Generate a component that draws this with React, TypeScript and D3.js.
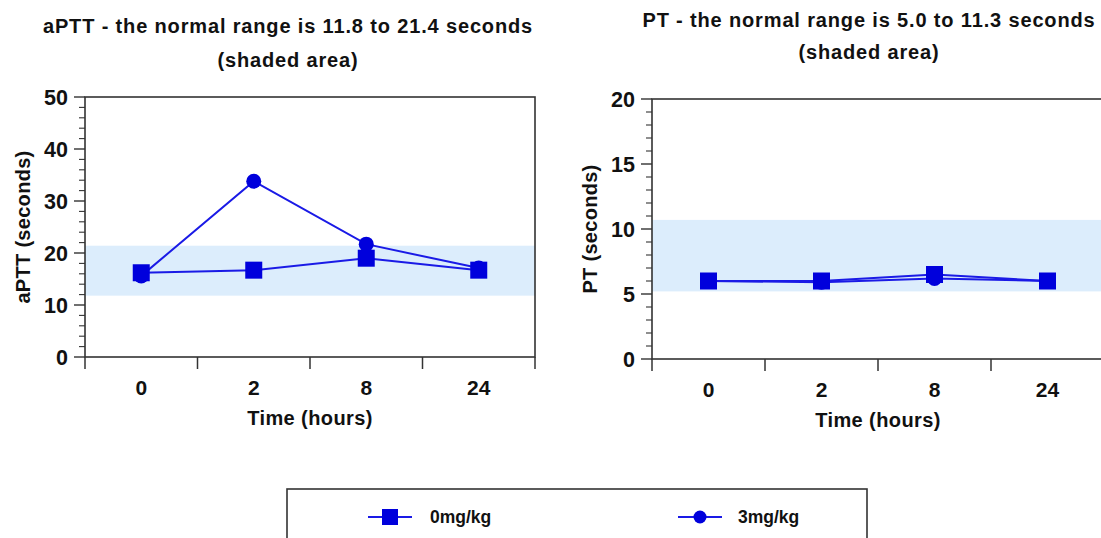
import React from "react";
import * as d3 from "d3";

const categories = ["0", "2", "8", "24"];
const aptt0mg = [16.2, 16.7, 19.0, 16.7];
const aptt3mg = [15.6, 33.8, 21.7, 17.1];
const pt0mg = [6.0, 6.0, 6.5, 6.0];
const pt3mg = [6.0, 5.9, 6.2, 6.0];
const apttShade = [11.8, 21.4];
const ptShade = [5.2, 10.7];
const apttTicks = [0, 10, 20, 30, 40, 50];
const ptTicks = [0, 5, 10, 15, 20];
const seriesNames = ["0mg/kg", "3mg/kg"];

const FONT = "'Liberation Sans', Arial, sans-serif";
const LINE = "#1a1ae6";
const MARK = "#0000dc";
const SHADE = "#dcedfc";
const FRAME = "#333";

type PanelProps = {
  x0: number; x1: number; yTop: number; yBottom: number;
  yMax: number; ticks: number[]; minorStep: number;
  shade: number[]; s0: number[]; s3: number[];
  yLabel: string; titleLines: string[]; titleX: number; titleY: number[];
};

function Panel(p: PanelProps) {
  const x = d3.scaleBand<string>().domain(categories).range([p.x0, p.x1]).paddingInner(0).paddingOuter(0);
  const y = d3.scaleLinear().domain([0, p.yMax]).range([p.yBottom, p.yTop]);
  const cx = (c: string) => (x(c) as number) + x.bandwidth() / 2;
  const line = d3.line<number>().x((_, i) => cx(categories[i])).y((v) => y(v));
  const minor = d3.range(0, p.yMax + 1e-9, p.minorStep).filter((v) => !p.ticks.includes(v));
  const bounds = [...categories.map((c) => x(c) as number), p.x1];
  const midX = (p.x0 + p.x1) / 2;
  return (
    <g>
      {p.titleLines.map((t, i) => (
        <text key={i} x={p.titleX} y={p.titleY[i]} textAnchor="middle" fontFamily={FONT} fontWeight="bold" fontSize={20} letterSpacing={0.85} fill="#111">{t}</text>
      ))}
      <rect x={p.x0} y={y(p.shade[1])} width={p.x1 - p.x0} height={y(p.shade[0]) - y(p.shade[1])} fill={SHADE} />
      <rect x={p.x0} y={p.yTop} width={p.x1 - p.x0} height={p.yBottom - p.yTop} fill="none" stroke={FRAME} strokeWidth={1.6} />
      {p.ticks.map((t) => (
        <g key={t}>
          <line x1={p.x0 - 11} x2={p.x0} y1={y(t)} y2={y(t)} stroke={FRAME} strokeWidth={1.4} />
          <text x={p.x0 - 17} y={y(t)} dy="0.36em" textAnchor="end" fontFamily={FONT} fontWeight="bold" fontSize={21.5} fill="#111">{t}</text>
        </g>
      ))}
      {minor.map((t) => (
        <line key={t} x1={p.x0 - 6} x2={p.x0} y1={y(t)} y2={y(t)} stroke={FRAME} strokeWidth={1.1} />
      ))}
      {bounds.map((b, i) => (
        <line key={i} x1={b} x2={b} y1={p.yBottom} y2={p.yBottom + 12} stroke={FRAME} strokeWidth={1.5} />
      ))}
      {categories.map((c) => (
        <text key={c} x={cx(c)} y={p.yBottom + 38} textAnchor="middle" fontFamily={FONT} fontWeight="bold" fontSize={21} fill="#111">{c}</text>
      ))}
      <text x={midX} y={p.yBottom + 68} textAnchor="middle" fontFamily={FONT} fontWeight="bold" fontSize={20} letterSpacing={0.4} fill="#111">Time (hours)</text>
      <text transform={`translate(${p.x0 - 55},${(p.yTop + p.yBottom) / 2}) rotate(-90)`} textAnchor="middle" fontFamily={FONT} fontWeight="bold" fontSize={20} letterSpacing={0.3} fill="#111">{p.yLabel}</text>
      <path d={line(p.s3) || ""} fill="none" stroke={LINE} strokeWidth={2} />
      {p.s3.map((v, i) => (
        <circle key={i} cx={cx(categories[i])} cy={y(v)} r={7.5} fill={MARK} />
      ))}
      <path d={line(p.s0) || ""} fill="none" stroke={LINE} strokeWidth={2} />
      {p.s0.map((v, i) => (
        <rect key={i} x={cx(categories[i]) - 8.5} y={y(v) - 8.5} width={17} height={17} fill={MARK} />
      ))}
    </g>
  );
}

export default function App() {
  return (
    <svg width={1101} height={538} style={{ position: "absolute", left: 0, top: 0, background: "#fff" }}>
      <rect width={1101} height={538} fill="#fff" />
      <Panel x0={85} x1={535} yTop={97} yBottom={357} yMax={50} ticks={apttTicks} minorStep={2}
        shade={apttShade} s0={aptt0mg} s3={aptt3mg} yLabel="aPTT (seconds)"
        titleLines={["aPTT - the normal range is 11.8 to 21.4 seconds", "(shaded area)"]} titleX={288} titleY={[33, 67]} />
      <Panel x0={652} x1={1104} yTop={99} yBottom={359} yMax={20} ticks={ptTicks} minorStep={1}
        shade={ptShade} s0={pt0mg} s3={pt3mg} yLabel="PT (seconds)"
        titleLines={["PT - the normal range is 5.0 to 11.3 seconds", "(shaded area)"]} titleX={869} titleY={[27, 59]} />
      <g>
        <rect x={287} y={489} width={580} height={80} fill="none" stroke={FRAME} strokeWidth={1.6} />
        <line x1={368} x2={412} y1={517} y2={517} stroke={LINE} strokeWidth={2} />
        <rect x={382} y={509} width={16} height={16} fill={MARK} />
        <text x={430} y={517} dy="0.36em" fontFamily={FONT} fontWeight="bold" fontSize={17.5} fill="#111">{seriesNames[0]}</text>
        <line x1={678} x2={722} y1={517} y2={517} stroke={LINE} strokeWidth={2} />
        <circle cx={700} cy={517} r={6.5} fill={MARK} />
        <text x={738} y={517} dy="0.36em" fontFamily={FONT} fontWeight="bold" fontSize={17.5} fill="#111">{seriesNames[1]}</text>
      </g>
    </svg>
  );
}
